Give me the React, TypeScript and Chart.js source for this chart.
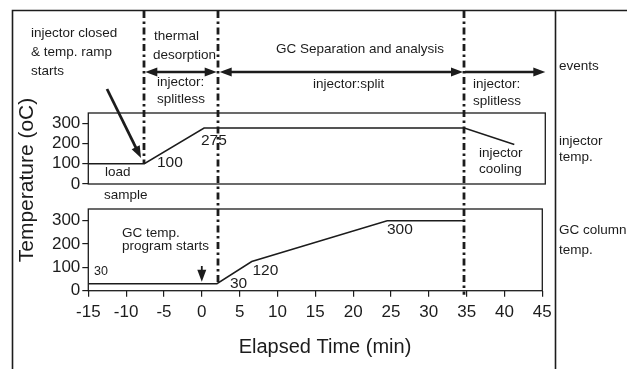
import React, { useEffect, useRef } from "react";
import { Chart, registerables } from "chart.js";

Chart.register(...registerables);

// ---- data ----
const injectorTime = [-15, -7.6, 0.3, 34.7, 41.3];
const injectorTemp = [100, 100, 276, 276, 195];
const columnTime = [-15, 2, 6.6, 24.5, 34.7];
const columnTemp = [30, 30, 125, 300, 300];
const eventTimes = [-7.6, 2.1, 34.65];
const timeMin = -15;
const timeMax = 45;
const timeStep = 5;
const tempMax = 350;
const tempStep = 100;

const FONT = '"Liberation Sans", Arial, Helvetica, sans-serif';
const INK = "#1c1c1c";

// annotation texts: [text, left x, middle y, font size]
const notes: [string, number, number, number][] = [
  ["injector closed", 31, 33, 13.5],
  ["& temp. ramp", 31, 52.5, 13.5],
  ["starts", 31, 71, 13.5],
  ["thermal", 154, 36, 13.5],
  ["desorption", 153, 55, 13.5],
  ["GC Separation and analysis", 276, 49, 13.5],
  ["injector:", 157, 82, 13.5],
  ["splitless", 157, 99, 13.5],
  ["injector:split", 313, 84, 13.5],
  ["injector:", 473, 84.5, 13.5],
  ["splitless", 473, 101.5, 13.5],
  ["events", 559, 66, 13.5],
  ["injector", 559, 141, 13.5],
  ["temp.", 559, 157, 13.5],
  ["injector", 479, 153, 13.5],
  ["cooling", 479, 169.5, 13.5],
  ["load", 105, 172.5, 13.5],
  ["sample", 104, 195, 13.5],
  ["GC temp.", 122, 233.5, 13.5],
  ["program starts", 122, 246, 13.5],
  ["GC column", 559, 230.5, 13.5],
  ["temp.", 559, 250.5, 13.5],
  ["100", 157, 162.5, 15.5],
  ["275", 201, 140.5, 15.5],
  ["30", 94, 271.5, 12.5],
  ["30", 230, 284, 15.5],
  ["120", 252.5, 271, 15.5],
  ["300", 387, 230, 15.5],
];

function arrowHead(ctx: CanvasRenderingContext2D, x: number, y: number, ang: number, len = 12, half = 4.5) {
  ctx.beginPath();
  ctx.moveTo(x, y);
  ctx.lineTo(x - len * Math.cos(ang) + half * Math.sin(ang), y - len * Math.sin(ang) - half * Math.cos(ang));
  ctx.lineTo(x - len * Math.cos(ang) - half * Math.sin(ang), y - len * Math.sin(ang) + half * Math.cos(ang));
  ctx.closePath();
  ctx.fill();
}

function arrow(ctx: CanvasRenderingContext2D, x1: number, y1: number, x2: number, y2: number, startHead: boolean, endHead: boolean, w = 2.6) {
  const ang = Math.atan2(y2 - y1, x2 - x1);
  ctx.lineWidth = w;
  ctx.beginPath();
  ctx.moveTo(x1 + (startHead ? 6 * Math.cos(ang) : 0), y1 + (startHead ? 6 * Math.sin(ang) : 0));
  ctx.lineTo(x2 - (endHead ? 6 * Math.cos(ang) : 0), y2 - (endHead ? 6 * Math.sin(ang) : 0));
  ctx.stroke();
  if (endHead) arrowHead(ctx, x2, y2, ang);
  if (startHead) arrowHead(ctx, x1, y1, ang + Math.PI);
}

const overlay = {
  id: "overlay",
  afterDraw(chart: any) {
    const ctx: CanvasRenderingContext2D = chart.ctx;
    const xs = chart.scales.x;
    const yi = chart.scales.yInj;
    const yg = chart.scales.yGC;
    const W = chart.width;
    const H = chart.height;
    ctx.save();
    ctx.strokeStyle = INK;
    ctx.fillStyle = INK;

    // outer frame
    ctx.lineWidth = 1.6;
    ctx.beginPath();
    ctx.moveTo(12.5, H);
    ctx.lineTo(12.5, 10.5);
    ctx.lineTo(W, 10.5);
    ctx.moveTo(555.5, 10.5);
    ctx.lineTo(555.5, H);
    ctx.stroke();

    // panel boxes
    ctx.lineWidth = 1.3;
    const L = xs.getPixelForValue(timeMin);
    const R = xs.getPixelForValue(timeMax);
    ctx.strokeRect(L, yi.top, R + 3 - L, yi.bottom - yi.top);
    ctx.strokeRect(L, yg.top, R - L, yg.bottom - yg.top);

    // event boundaries (dash-dot)
    const ends = [yi.getPixelForValue(injectorTemp[1]), yg.getPixelForValue(columnTemp[1]), yg.bottom + 4];
    ctx.lineWidth = 2.8;
    ctx.lineCap = "butt";
    ctx.setLineDash([7, 3.5, 2.5, 3.5]);
    eventTimes.forEach((t, i) => {
      const x = Math.round(xs.getPixelForValue(t));
      ctx.beginPath();
      ctx.moveTo(x, 11);
      ctx.lineTo(x, ends[i]);
      ctx.stroke();
    });
    ctx.setLineDash([]);

    // event arrows
    const ay = 72;
    const e0 = xs.getPixelForValue(eventTimes[0]);
    const e1 = xs.getPixelForValue(eventTimes[1]);
    const e2 = xs.getPixelForValue(eventTimes[2]);
    arrow(ctx, e0 + 1, ay, e1 - 1, ay, true, true);
    arrow(ctx, e1 + 2, ay, e2 - 1, ay, true, true);
    arrow(ctx, e2 + 1, ay, R + 3, ay, false, true);

    // pointer arrows
    arrow(ctx, 107, 89, 141, 158, false, true, 2.8);
    const x0 = xs.getPixelForValue(0);
    arrow(ctx, x0, 266, x0, yg.getPixelForValue(columnTemp[1]) - 2, false, true, 1.8);

    // annotation texts
    ctx.textBaseline = "middle";
    ctx.textAlign = "left";
    for (const [t, x, y, s] of notes) {
      ctx.font = `${s}px ${FONT}`;
      ctx.fillText(t, x, y);
    }

    // axis titles
    ctx.textAlign = "center";
    ctx.font = `20px ${FONT}`;
    ctx.fillText("Elapsed Time (min)", 325, 347);
    ctx.save();
    ctx.translate(27, 180);
    ctx.rotate(-Math.PI / 2);
    ctx.font = `21px ${FONT}`;
    ctx.fillText("Temperature (oC)", 0, 0);
    ctx.restore();

    ctx.restore();
  },
};

export default function App() {
  const ref = useRef<HTMLCanvasElement | null>(null);
  useEffect(() => {
    if (!ref.current) return;
    const yAxis = (weight: number, stackWeight: number) => ({
      type: "linear" as const,
      position: "left" as const,
      stack: "temp",
      stackWeight,
      weight,
      min: 0,
      max: tempMax,
      afterFit: (s: any) => {
        s.width = 88.3;
      },
      border: { display: false },
      grid: { drawOnChartArea: false, color: INK, lineWidth: 1.2, tickLength: 6 },
      ticks: {
        stepSize: tempStep,
        includeBounds: false,
        autoSkip: false,
        padding: 2,
        color: INK,
        font: { family: FONT, size: 17 },
      },
    });
    const chart = new Chart(ref.current, {
      type: "line",
      data: {
        datasets: [
          {
            label: "injector temp.",
            data: injectorTime.map((t, i) => ({ x: t, y: injectorTemp[i] })),
            yAxisID: "yInj",
            borderColor: INK,
            borderWidth: 1.5,
            pointRadius: 0,
            tension: 0,
            fill: false,
          },
          {
            label: "GC column temp.",
            data: columnTime.map((t, i) => ({ x: t, y: columnTemp[i] })),
            yAxisID: "yGC",
            borderColor: INK,
            borderWidth: 1.5,
            pointRadius: 0,
            tension: 0,
            fill: false,
          },
        ],
      },
      options: {
        responsive: false,
        animation: false,
        events: [],
        layout: { padding: { top: 113, right: 84.7, left: 0, bottom: 0 } },
        plugins: { legend: { display: false }, tooltip: { enabled: false }, title: { display: false } },
        scales: {
          x: {
            type: "linear",
            position: "bottom",
            min: timeMin,
            max: timeMax,
            afterFit: (s: any) => {
              s.height = 78.3;
            },
            border: { display: false },
            grid: { drawOnChartArea: false, color: INK, lineWidth: 1.2, tickLength: 6 },
            ticks: {
              stepSize: timeStep,
              padding: 5,
              color: INK,
              maxRotation: 0,
              autoSkip: false,
              font: { family: FONT, size: 17 },
            },
          },
          yInj: yAxis(3, 71) as any,
          yGap: {
            type: "linear",
            position: "left",
            stack: "temp",
            stackWeight: 25,
            weight: 2,
            min: 0,
            max: 1,
            afterFit: (s: any) => {
              s.width = 88.3;
            },
            border: { display: false },
            grid: { display: false },
            ticks: { display: false },
          } as any,
          yGC: yAxis(1, 81.7) as any,
        },
      },
      plugins: [overlay],
    });
    return () => chart.destroy();
  }, []);
  return (
    <div style={{ position: "absolute", left: 0, top: 0, width: 627, height: 369, background: "#fff" }}>
      <canvas ref={ref} width={627} height={369} style={{ display: "block" }} />
    </div>
  );
}
